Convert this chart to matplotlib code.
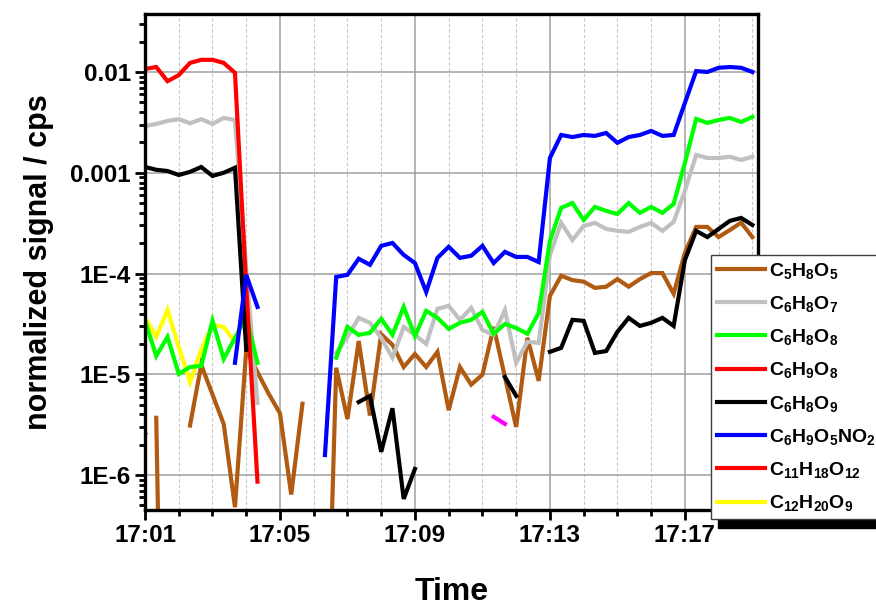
# -*- coding: utf-8 -*-
# normalized signal of several products vs. time (log scale)

import numpy as np
import pandas as pd
import matplotlib
matplotlib.use('Agg')
import matplotlib.pyplot as plt
import matplotlib.dates as mdates
from matplotlib.patches import Rectangle
from matplotlib.ticker import LogLocator, FuncFormatter, NullFormatter

plt.rcParams['font.family'] = 'Liberation Sans'
plt.rcParams['font.weight'] = 'bold'
plt.rcParams['mathtext.fontset'] = 'custom'
plt.rcParams['mathtext.rm'] = 'Liberation Sans:bold'
plt.rcParams['mathtext.it'] = 'Liberation Sans:bold'
plt.rcParams['mathtext.bf'] = 'Liberation Sans:bold'
plt.rcParams['mathtext.default'] = 'rm'

n = np.nan

# 20 s samples, first one at 17:00:40
t = pd.date_range('2021-01-01 17:00:40', periods=56, freq='20s')

c5h8o5 = [n, n, 3.7e-6, 3e-12, n, 3.1e-6, 1.24e-5, 6.3e-6, 3.2e-6, 4.8e-7,
          1.75e-5, 1.05e-5, 6.4e-6, 4.1e-6, 6.4e-7, 5.1e-6, n, 1.7e-9, 1.16e-5, 3.6e-6,
          2.14e-5, 3.9e-6, 2.5e-5, 1.96e-5, 1.18e-5, 1.59e-5, 1.18e-5, 1.67e-5, 4.4e-6, 1.18e-5,
          7.9e-6, 9.9e-6, 2.95e-5, 9.4e-6, 3.0e-6, 2.3e-5, 8.6e-6, 6.0e-5, 9.5e-5, 8.6e-5,
          8.3e-5, 7.2e-5, 7.4e-5, 8.8e-5, 7.4e-5, 8.8e-5, 1.01e-4, 1.01e-4, 6.3e-5, 1.6e-4,
          2.9e-4, 2.9e-4, 2.3e-4, 2.7e-4, 3.2e-4, 2.3e-4]

c6h8o7 = [n, 2.9e-3, 3.05e-3, 3.27e-3, 3.4e-3, 3.1e-3, 3.4e-3, 3.05e-3, 3.5e-3, 3.33e-3,
          1.1e-4, 5.2e-6, n, n, n, n, n, n, 1.63e-5, 2.35e-5,
          3.63e-5, 3.24e-5, 2.3e-5, 1.46e-5, 2.95e-5, 2.46e-5, 2.0e-5, 4.46e-5, 4.78e-5, 3.47e-5,
          4.56e-5, 2.75e-5, 2.46e-5, 4.35e-5, 1.3e-5, 2.1e-5, 2.05e-5, 1.53e-4, 3.18e-4, 2.15e-4,
          2.96e-4, 3.18e-4, 2.77e-4, 2.65e-4, 2.59e-4, 2.9e-4, 3.18e-4, 2.65e-4, 3.25e-4, 6.6e-4,
          1.5e-3, 1.4e-3, 1.4e-3, 1.44e-3, 1.34e-3, 1.44e-3]

c6h8o8 = [n, 3.4e-5, 1.52e-5, 2.35e-5, 1.01e-5, 1.18e-5, 1.21e-5, 3.4e-5, 1.42e-5, 2.3e-5,
          3.7e-5, 1.3e-5, n, n, n, n, n, n, 1.46e-5, 2.95e-5,
          2.46e-5, 2.58e-5, 3.55e-5, 2.46e-5, 4.66e-5, 2.4e-5, 4.26e-5, 3.63e-5, 2.82e-5, 3.24e-5,
          3.47e-5, 4.16e-5, 2.52e-5, 3.16e-5, 2.88e-5, 2.52e-5, 4.06e-5, 2.1e-4, 4.48e-4, 5.0e-4,
          3.4e-4, 4.58e-4, 4.18e-4, 3.9e-4, 5.0e-4, 4.0e-4, 4.58e-4, 4.0e-4, 4.9e-4, 1.25e-3,
          3.42e-3, 3.12e-3, 3.34e-3, 3.5e-3, 3.19e-3, 3.58e-3]

c6h9o8 = [n, 1.07e-2, 1.12e-2, 8.1e-3, 9.3e-3, 1.23e-2, 1.32e-2, 1.32e-2, 1.23e-2, 9.8e-3,
          7.4e-5, 8.6e-7] + [n] * 44

c6h8o9 = [n, 1.14e-3, 1.07e-3, 1.04e-3, 9.5e-4, 1.02e-3, 1.14e-3, 9.3e-4, 1.0e-3, 1.12e-3,
          1.75e-5, n, n, n, n, n, n, n, n, n,
          5.3e-6, 6.1e-6, 1.7e-6, 4.6e-6, 5.8e-7, 1.15e-6, n, n, n, n,
          n, n, n, 9.4e-6, 6.1e-6, n, n, 1.67e-5, 1.83e-5, 3.47e-5,
          3.39e-5, 1.63e-5, 1.7e-5, 2.64e-5, 3.63e-5, 3.02e-5, 3.24e-5, 3.63e-5, 3.02e-5, 1.36e-4,
          2.65e-4, 2.3e-4, 2.77e-4, 3.33e-4, 3.56e-4, 3.03e-4]

c6h9o5no2 = [4.0e-6, 2.6e-6, n, n, n, n, n, n, n, 1.3e-5,
             9.7e-5, 4.66e-5, n, n, n, n, n, 1.58e-6, 9.25e-5, 9.7e-5,
             1.40e-4, 1.22e-4, 1.88e-4, 2.01e-4, 1.53e-4, 1.27e-4, 6.56e-5, 1.43e-4, 1.84e-4, 1.43e-4,
             1.50e-4, 1.88e-4, 1.27e-4, 1.64e-4, 1.46e-4, 1.46e-4, 1.30e-4, 1.40e-3, 2.37e-3, 2.26e-3,
             2.37e-3, 2.32e-3, 2.48e-3, 1.98e-3, 2.26e-3, 2.37e-3, 2.6e-3, 2.32e-3, 2.37e-3, 4.93e-3,
             1.02e-2, 1.0e-2, 1.1e-2, 1.12e-2, 1.1e-2, 1.0e-2]

c11h18o12 = [n] * 56

c12h20o9 = [n, 3.63e-5, 2.35e-5, 4.35e-5, 1.87e-5, 8.4e-6, 1.75e-5, 3.09e-5, 2.95e-5, 2.1e-5] + [n] * 46

other = [n] * 32 + [3.78e-6, 3.22e-6] + [n] * 22

series = [
    (c5h8o5, '#B05A12', r'$C_5H_8O_5$'),
    (c6h8o7, '#C0C0C0', r'$C_6H_8O_7$'),
    (c6h8o8, '#00FF00', r'$C_6H_8O_8$'),
    (c6h9o8, '#FF0000', r'$C_6H_9O_8$'),
    (c6h8o9, '#000000', r'$C_6H_8O_9$'),
    (c6h9o5no2, '#0000FF', r'$C_6H_9O_5NO_2$'),
    (c11h18o12, '#FF0000', r'$C_{11}H_{18}O_{12}$'),
    (c12h20o9, '#FFFF00', r'$C_{12}H_{20}O_9$'),
]

fig = plt.figure(figsize=(8.76, 6.06), dpi=100)
ax = fig.add_axes([145/876, 1 - 510/606, (758-145)/876, (510-14)/606])

# draw order: later ones on top
order = [7, 6, 0, 1, 2, 3, 4, 5]
lines = {}
for k in order:
    vals, col, lab = series[k]
    lines[k], = ax.plot(t, vals, color=col, lw=3, label=lab, solid_joinstyle='miter')
ax.plot(t, other, color='#FF00FF', lw=3, label='_nolegend_')

ax.set_yscale('log')
ax.set_ylim(4.5e-7, 0.0376)
ax.set_xlim(pd.Timestamp('2021-01-01 17:01:00'), pd.Timestamp('2021-01-01 17:19:10'))

ax.xaxis.set_major_locator(mdates.MinuteLocator(byminute=[1, 5, 9, 13, 17]))
ax.xaxis.set_minor_locator(mdates.MinuteLocator())
ax.xaxis.set_major_formatter(mdates.DateFormatter('%H:%M'))

def ylab(v, pos):
    e = int(round(np.log10(v)))
    if e >= -3:
        return ('{:.%df}' % (-e)).format(v)
    return '1E{}'.format(e)

ax.yaxis.set_major_locator(LogLocator(base=10, numticks=20))
ax.yaxis.set_minor_locator(LogLocator(base=10, subs=np.arange(2, 10), numticks=20))
ax.yaxis.set_major_formatter(FuncFormatter(ylab))
ax.yaxis.set_minor_formatter(NullFormatter())

ax.grid(which='major', axis='both', color='#a0a0a0', lw=1.1, ls='-')
ax.grid(which='minor', axis='x', color='#c8c8c8', lw=0.8, ls=(0, (3, 2)))
ax.set_axisbelow(True)

for s in ax.spines.values():
    s.set_linewidth(2.4)
ax.tick_params(which='major', direction='out', length=7, width=2, labelsize=17.5, pad=3)
ax.tick_params(which='minor', direction='out', length=4, width=2)

ax.set_xlabel('Time', fontsize=23, fontweight='bold', labelpad=22)
ax.set_ylabel('normalized signal / cps', fontsize=22, fontweight='bold', labelpad=12)

handles = [lines[k] for k in range(8)]
leg = fig.legend(handles, [s[2] for s in series], loc='upper left',
                 bbox_to_anchor=(711/876, 1 - 255/606), bbox_transform=fig.transFigure,
                 fontsize=14, frameon=True, fancybox=False, edgecolor='#404040',
                 framealpha=1, borderpad=0.3, labelspacing=0.68, handlelength=2.5,
                 handletextpad=0.2, borderaxespad=0)
leg.get_frame().set_linewidth(1)
leg.set_zorder(6)

# black drop shadow of the legend box, offset down-right
fig.canvas.draw()
bb = leg.get_window_extent().transformed(fig.transFigure.inverted())
dx, dy = 7 / 876, 9 / 606
fig.patches.append(Rectangle((bb.x0 + dx, bb.y0 - dy), bb.width, bb.height,
                             transform=fig.transFigure, color='black', zorder=5))

fig.savefig('out.png', dpi=100)
